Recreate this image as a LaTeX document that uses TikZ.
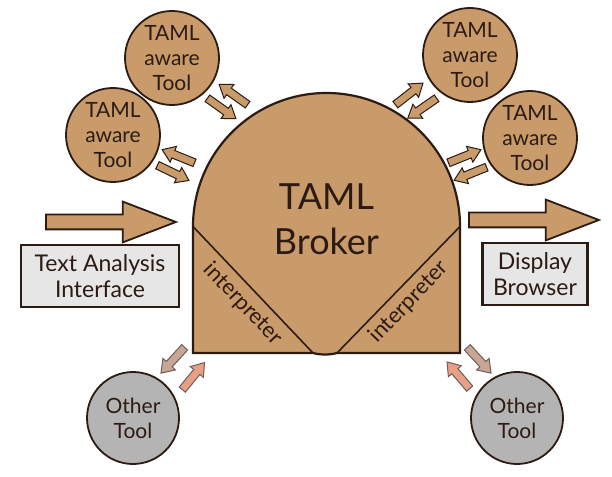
\documentclass[tikz,border=0pt]{standalone}
\usepackage{fontspec}
\setmainfont{Lato}
\usetikzlibrary{shapes.arrows}
\definecolor{tamlink}{HTML}{2B1B12}
\definecolor{tamltan}{HTML}{C99B6B}
\definecolor{tamlgray}{HTML}{B4B4B4}
\definecolor{tamlbox}{HTML}{E6E6E6}
\definecolor{tamlrose}{HTML}{C9A595}
\definecolor{tamlsalmon}{HTML}{E89F86}

\begin{document}
\begin{tikzpicture}[
  x=1pt, y=1pt,
  tool/.style={
    circle, draw=tamlink, line width=1.8pt, fill=tamltan,
    minimum size=94pt, inner sep=0pt, align=center, text=tamlink,
    font=\fontsize{21}{25}\selectfont
  },
  other/.style={tool, fill=tamlgray, minimum size=92pt},
  iface/.style={
    rectangle, draw=tamlink, line width=2.2pt, fill=tamlbox,
    minimum height=62pt, align=center, text=tamlink,
    font=\fontsize{23}{26}\selectfont
  },
  bigarr/.style={
    single arrow, draw=tamlink, line width=1.8pt, fill=tamltan,
    inner sep=6.5pt, single arrow head extend=13pt,
    single arrow tip angle=42, minimum height=130pt, anchor=tail
  },
  smallarr/.style={
    single arrow, draw=tamlink, line width=1pt, fill=tamltan,
    inner sep=3.5pt, single arrow head extend=4.5pt,
    single arrow tip angle=70, minimum height=35pt, anchor=tail
  },
  brokerline/.style={draw=tamlink, line width=2.2pt},
  lbl/.style={text=tamlink, font=\fontsize{22}{24}\selectfont},
]
  \useasboundingbox (0,0) rectangle (612,476);

  % the broker
  \coordinate (lcorner) at (193,249.5);
  \coordinate (rcorner) at (460,249.5);
  \coordinate (lfoot) at (313,123);
  \coordinate (rfoot) at (337,123);
  \fill[tamltan] (193,123) -- (lcorner) arc[start angle=180, end angle=0, radius=133.5]
    -- (460,123) -- (rfoot) .. controls (330,121) and (320,121) .. (lfoot) -- cycle;
  \draw[brokerline] (193,123) -- (lcorner) arc[start angle=180, end angle=0, radius=133.5]
    -- (460,123) -- (rfoot) .. controls (330,121) and (320,121) .. (lfoot) -- cycle;
  \draw[brokerline, line width=1.6pt] (lcorner) -- (lfoot);
  \draw[brokerline, line width=1.6pt] (rcorner) -- (rfoot);
  \node[text=tamlink, align=center, font=\fontsize{36}{45}\selectfont] (broker) at (326.5,257) {TAML\\Broker};
  \node[lbl, rotate=-46.4] (interpL) at (243,172) {interpreter};
  \node[lbl, rotate=46.2] (interpR) at (409,174) {interpreter};

  % tools
  \node[tool] (tool1) at (172,418) {TAML\\aware\\Tool};
  \node[tool] (tool2) at (113,341) {TAML\\aware\\Tool};
  \node[tool] (tool3) at (470,421) {TAML\\aware\\Tool};
  \node[tool] (tool4) at (530,338) {TAML\\aware\\Tool};
  \node[other] (other1) at (133,58) {Other\\Tool};
  \node[other] (other2) at (517,58) {Other\\Tool};

  % input and output
  \node[iface, minimum width=158pt] (tai) at (100,200) {Text Analysis\\Interface};
  \node[iface, minimum width=105pt] (disp) at (535,202) {Display\\Browser};
  \node[bigarr] (inarr) at (45,254) {};
  \node[bigarr] (outarr) at (468,256) {};

  % small arrows
  \node[smallarr, rotate=144.5] (a1) at (248,371) {};
  \node[smallarr, rotate=-35.5] (a2) at (207,378) {};
  \node[smallarr, rotate=158] (a3) at (195,313) {};
  \node[smallarr, rotate=-25.8] (a4) at (157,311) {};
  \node[smallarr, rotate=38] (a5) at (395,371) {};
  \node[smallarr, rotate=214.6] (a6) at (437,378) {};
  \node[smallarr, rotate=22] (a7) at (448,313) {};
  \node[smallarr, rotate=202] (a8) at (487,309) {};
  \node[smallarr, fill=tamlrose, draw=tamlink!70, rotate=227.4] (a9) at (185,129) {};
  \node[smallarr, fill=tamlsalmon, draw=tamlink!70, rotate=50.6] (a10) at (182,86) {};
  \node[smallarr, fill=tamlrose, draw=tamlink!70, rotate=-47.4] (a11) at (467,129) {};
  \node[smallarr, fill=tamlsalmon, draw=tamlink!70, rotate=130.4] (a12) at (470,87) {};
\end{tikzpicture}
\end{document}
